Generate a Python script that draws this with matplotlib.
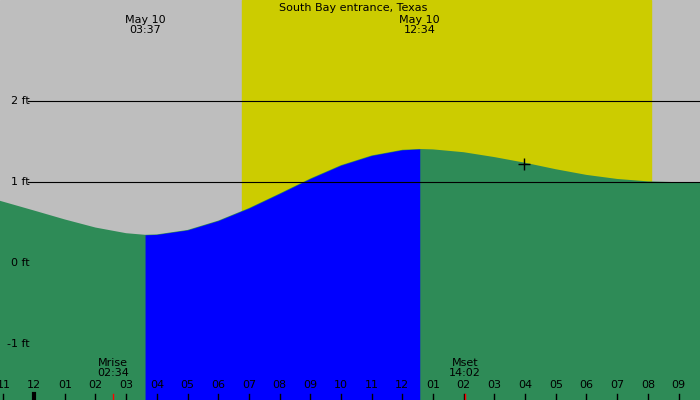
import numpy as np
import matplotlib.pyplot as plt

# tide height (ft), hours from midnight May 10
hours = [-1.11, 0, 1, 2, 3, 3.617, 4, 5, 6, 7, 8, 9, 10, 11, 12, 12.567,
         13, 14, 15, 16, 17, 18, 19, 20, 21, 21.7]
height = [0.77, 0.65, 0.54, 0.44, 0.37, 0.35, 0.355, 0.41, 0.525, 0.68, 0.86, 1.045, 1.21, 1.33, 1.40, 1.41,
          1.405, 1.37, 1.31, 1.24, 1.16, 1.09, 1.04, 1.01, 1.0, 0.99]
low_t, high_t = 3.617, 12.567
sunrise, sunset = 6.77, 20.1
moonrise, moonset = 2.567, 14.033
tick_labels = ["11", "12", "01", "02", "03", "04", "05", "06", "07", "08", "09", "10", "11", "12",
               "01", "02", "03", "04", "05", "06", "07", "08", "09"]
ft_levels = [2, 1, 0, -1]

x0, x1 = -1.11, 21.7
y0, y1 = -1.69, 3.25

fig = plt.figure(figsize=(7, 4), dpi=100)
ax = fig.add_axes([0, 0, 1, 1])
ax.set_xlim(x0, x1)
ax.set_ylim(y0, y1)
ax.axis("off")
ax.axvspan(x0, x1, color="#bebebe", zorder=0)
ax.axvspan(sunrise, sunset, color="#cccc00", zorder=0)

t = np.array(hours)
h = np.array(height)
ax.fill_between(t, y0, h, color="#2e8b57", lw=0, zorder=1)
m = (t >= low_t) & (t <= high_t)
ax.fill_between(t[m], y0, h[m], color="#0000ff", lw=0, zorder=2)

for lv in ft_levels[:2]:
    ax.plot([-0.2, x1], [lv, lv], color="black", lw=0.8, zorder=3)
for lv in ft_levels:
    ax.text(-0.15, lv, f"{lv} ft", ha="right", va="center", fontsize=8, zorder=4)

for i, lab in enumerate(tick_labels):
    hr = i - 1
    ax.text(hr, -1.51, lab, ha="center", va="center", fontsize=8, zorder=4)
    ax.plot([hr, hr], [y0, y0 + 0.08], color="black", lw=3 if hr == 0 else 1, zorder=4)
for mt in [moonrise, moonset]:
    ax.plot([mt, mt], [y0, y0 + 0.08], color="red", lw=1, zorder=4)

ax.text(moonrise, -1.29, "Mrise\n02:34", ha="center", va="center", fontsize=8, linespacing=1.0, zorder=4)
ax.text(moonset, -1.29, "Mset\n14:02", ha="center", va="center", fontsize=8, linespacing=1.0, zorder=4)
ax.text(low_t, 2.94, "May 10\n03:37", ha="center", va="center", fontsize=8, linespacing=0.95, zorder=4)
ax.text(high_t, 2.94, "May 10\n12:34", ha="center", va="center", fontsize=8, linespacing=0.95, zorder=4)
ax.text(10.4, 3.15, "South Bay entrance, Texas", ha="center", va="center", fontsize=8, zorder=4)
ax.plot([15.96], [1.22], marker="+", color="black", ms=8, mew=1, zorder=4)

fig.savefig("out.png", dpi=100)
